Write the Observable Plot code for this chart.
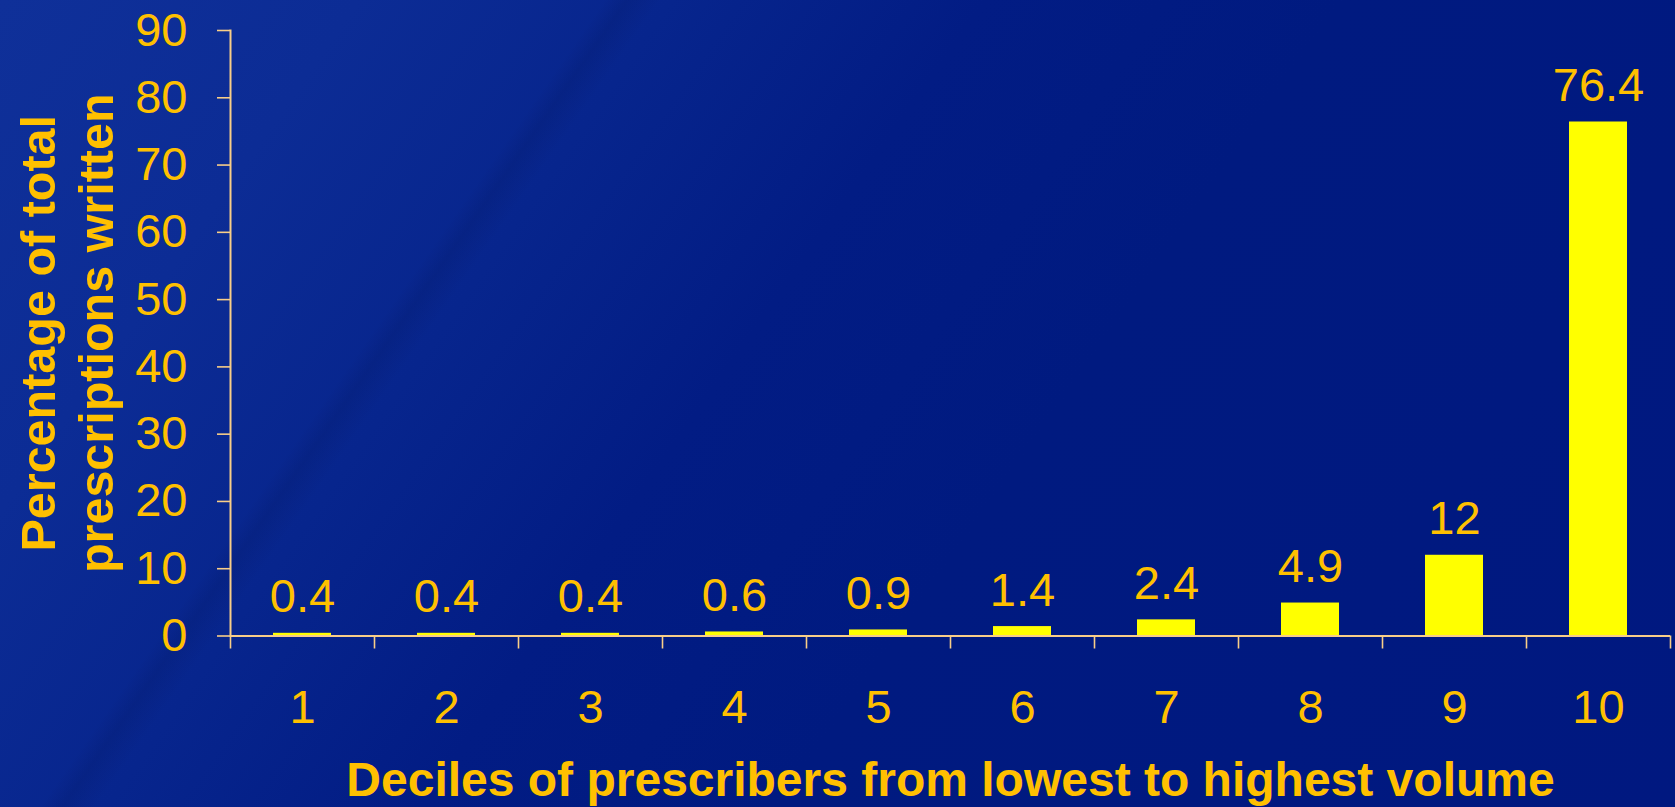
<!DOCTYPE html>
<html>
<head>
<meta charset="utf-8">
<script src="https://cdn.jsdelivr.net/npm/d3@7"></script>
<script src="https://cdn.jsdelivr.net/npm/@observablehq/plot@0.6"></script>
<style>
  html, body { margin: 0; padding: 0; width: 1675px; height: 807px; overflow: hidden; }
  body {
    background:
      linear-gradient(125deg, rgba(255,255,255,0) 0%, rgba(255,255,255,0) 27%, rgba(0,10,60,0.12) 28%, rgba(255,255,255,0) 29.5%, rgba(255,255,255,0) 100%),
      linear-gradient(125deg, #0f3099 0%, #0c2c95 16%, #07258d 30%, #021c84 44%, #001a80 60%, #001880 100%);
  }
  #chart svg { display: block; }
</style>
</head>
<body>
<div id="chart"></div>
<script>
const deciles = ["1", "2", "3", "4", "5", "6", "7", "8", "9", "10"];
const shares = [0.4, 0.4, 0.4, 0.6, 0.9, 1.4, 2.4, 4.9, 12, 76.4];
const yTicks = [0, 10, 20, 30, 40, 50, 60, 70, 80, 90];
const xTitle = "Deciles of prescribers from lowest to highest volume";
const yTitle = "Percentage of total\nprescriptions written";

const data = deciles.map((d, i) => ({decile: d, value: shares[i]}));

const W = 1675, H = 807;
const mL = 230, mR = 5, mT = 30, mB = 171.5;
const step = (W - mL - mR) / deciles.length;

const textColor = "#FFC000";
const barColor = "#FFFF00";
const axisColor = "#F8CE88";
const font = "'Liberation Sans', Arial, Helvetica, sans-serif";

const chart = Plot.plot({
  width: W,
  height: H,
  marginLeft: mL,
  marginRight: mR,
  marginTop: mT,
  marginBottom: mB,
  style: {background: "none", fontFamily: font, color: textColor, overflow: "visible"},
  x: {domain: deciles, paddingInner: 0.6, paddingOuter: 0.3, axis: null},
  y: {domain: [0, 90], axis: null},
  marks: [
    Plot.barY(data, {x: "decile", y: "value", fill: barColor}),
    Plot.frame({anchor: "left", stroke: axisColor, strokeWidth: 2}),
    Plot.ruleY([0], {stroke: axisColor, strokeWidth: 2}),
    Plot.axisY(yTicks, {
      tickSize: 13, tickPadding: 30, fontSize: 47, stroke: axisColor, strokeWidth: 1.6,
      fill: textColor, label: null, tickFormat: d => String(d)
    }),
    Plot.axisX({tickSize: 0, tickPadding: 54, fontSize: 47, fill: textColor, label: null}),
    Plot.axisX(deciles, {tickSize: 13, text: null, label: null, dx: -step / 2, stroke: axisColor, strokeWidth: 1.6}),
    Plot.axisX([deciles[deciles.length - 1]], {tickSize: 13, text: null, label: null, dx: step / 2, stroke: axisColor, strokeWidth: 1.6}),
    Plot.text(data, {x: "decile", y: "value", text: d => String(d.value), dy: -21, lineAnchor: "bottom", fontSize: 47, fill: textColor}),
    Plot.text([xTitle], {frameAnchor: "bottom", textAnchor: "middle", lineAnchor: "top", dy: 126, fontSize: 48, fontWeight: "bold", fill: textColor}),
    Plot.text([yTitle], {frameAnchor: "left", textAnchor: "middle", rotate: -90, lineAnchor: "top", lineHeight: 1.19, dx: 14 - mL, fontSize: 48.5, fontWeight: "bold", fill: textColor})
  ]
});
document.getElementById("chart").appendChild(chart);
</script>
</body>
</html>
